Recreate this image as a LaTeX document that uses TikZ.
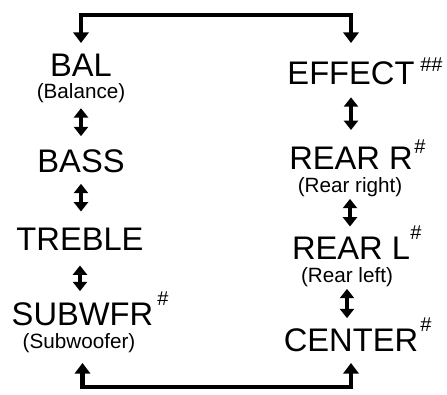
\documentclass[tikz,border=0pt]{standalone}
\usepackage{fontspec}
\setmainfont{Liberation Sans}
\usetikzlibrary{arrows.meta,positioning}

\tikzset{
  item/.style={inner sep=0pt, font=\fontsize{24.5}{26}\selectfont},
  note/.style={inner sep=0pt, font=\fontsize{15.5}{17}\selectfont},
  hash/.style={inner sep=0pt, font=\fontsize{15}{16}\selectfont},
  updown/.style={line width=3.5pt,
    {Triangle[width=10.5pt,length=7pt]}-{Triangle[width=10.5pt,length=7pt]}},
  rail/.style={line width=3.4pt,
    {Triangle[width=11.5pt,length=8pt]}-{Triangle[width=11.5pt,length=8pt]}}
}

\begin{document}
\begin{tikzpicture}[x=0.75pt, y=-0.75pt]
  % menu cycle of the audio settings
  \useasboundingbox (0,0) rectangle (447,394);

  % left column
  \node[item] (bal) at (81,65) {BAL};
  \node[note] (balsub) at (81,93) {(Balance)};
  \node[item] (bass) at (81,161) {BASS};
  \node[item] (treble) at (80,239) {TREBLE};
  \node[item] (subwfr) at (82.5,314) {SUBWFR};
  \node[hash] (subwfrhash) at (163,298.5) {\#};
  \node[note] (subwfrsub) at (79,343) {(Subwoofer)};

  % right column
  \node[item] (effect) at (351,73.5) {EFFECT};
  \node[hash] (effecthash) at (431.5,64.5) {\#\#};
  \node[item] (rearr) at (351,158.5) {REAR R};
  \node[hash] (rearrhash) at (420,146.5) {\#};
  \node[note] (rearrsub) at (350,187) {(Rear right)};
  \node[item] (rearl) at (351,248) {REAR L};
  \node[hash] (rearlhash) at (416,233) {\#};
  \node[note] (rearlsub) at (347,277) {(Rear left)};
  \node[item] (center) at (351,340) {CENTER};
  \node[hash] (centerhash) at (426,325) {\#};

  \coordinate (toprail) at (0,15);
  \coordinate (toptip) at (0,43);
  \coordinate (botrail) at (0,387);
  \coordinate (bottip) at (0,363);

  \draw[updown, shorten <=4pt, shorten >=9.75pt] (balsub.south) -- (balsub.south |- bass.north);
  \draw[updown, shorten <=8.25pt, shorten >=12pt] (bass.south) -- (bass.south |- treble.north);
  \draw[updown, shorten <=11.25pt, shorten >=8.25pt] (treble.south) -- (treble.south |- subwfr.north);

  \draw[updown, shorten <=9pt, shorten >=12.75pt] (effect.south) -- (effect.south |- rearr.north);
  \draw[updown, shorten <=1.5pt, shorten >=7.5pt] (rearrsub.south) -- (rearrsub.south |- rearl.north);
  \draw[updown, shorten <=1.5pt, shorten >=7.5pt] (rearlsub.south) -- (rearlsub.south |- center.north);

  \draw[rail] (bal |- toptip) -- (bal |- toprail) -- (effect |- toprail) -- (effect |- toptip);
  \draw[rail] (subwfr |- bottip) -- (subwfr |- botrail) -- (center |- botrail) -- (center |- bottip);
\end{tikzpicture}
\end{document}
